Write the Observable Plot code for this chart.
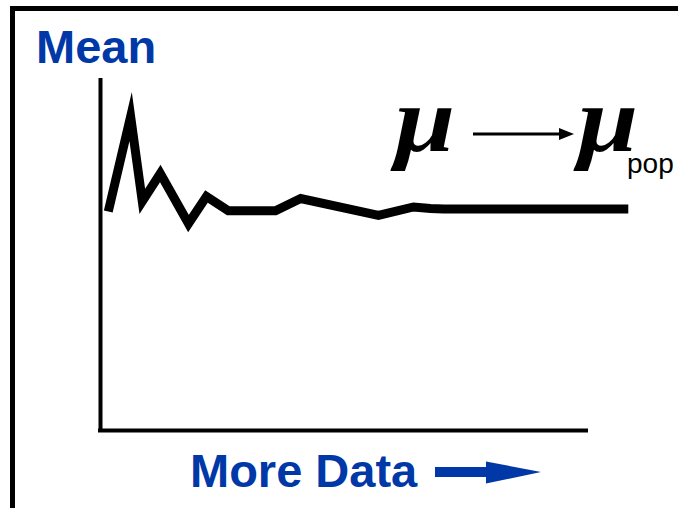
<!DOCTYPE html>
<html>
<head>
<meta charset="utf-8">
<script src="https://cdn.jsdelivr.net/npm/d3@7"></script>
<script src="https://cdn.jsdelivr.net/npm/@observablehq/plot@0.6"></script>
<style>
  html, body { margin: 0; padding: 0; background: #fff; overflow: hidden; }
  #wrap { position: relative; width: 678px; height: 508px; overflow: hidden; }
  #frame { position: absolute; left: 10px; top: 6px; width: 800px; height: 700px;
           border-top: 5px solid #000; border-left: 5px solid #000; }
  #chart { position: absolute; left: 0; top: 0; }
  #overlay { position: absolute; left: 0; top: 0; }
</style>
</head>
<body>
<div id="wrap">
  <div id="frame"></div>
  <div id="chart"></div>
  <svg id="overlay" width="678" height="508" xmlns="http://www.w3.org/2000/svg">
    <text x="36" y="63" font-family="Liberation Sans, Arial, sans-serif" font-weight="bold" font-size="47" fill="#0038a8">Mean</text>
    <text x="190" y="487" font-family="Liberation Sans, Arial, sans-serif" font-weight="bold" font-size="47" fill="#0038a8">More Data</text>
    <rect x="435" y="467" width="53" height="10" fill="#0038a8"/>
    <polygon points="486,461.5 541,472 486,483.5" fill="#0038a8"/>
    <text transform="translate(395,151) scale(1.15,1)" font-family="Liberation Serif, Times New Roman, serif" font-weight="bold" font-style="italic" font-size="94" fill="#000">μ</text>
    <line x1="473" y1="134" x2="561" y2="134" stroke="#000" stroke-width="3"/>
    <polygon points="559,128 574,134 559,140" fill="#000"/>
    <text transform="translate(578,151) scale(1.15,1)" font-family="Liberation Serif, Times New Roman, serif" font-weight="bold" font-style="italic" font-size="94" fill="#000">μ</text>
    <text x="627" y="173" font-family="Liberation Sans, Arial, sans-serif" font-size="28" fill="#000">pop</text>
  </svg>
</div>
<script>
// amount of data (arbitrary units) and running sample mean
const amountOfData = [1.6, 6.2, 8.6, 12.3, 18.1, 21.8, 26.3, 36.0, 41.2, 57.2, 64.4, 67.9, 70.6, 108.6];
const runningMean  = [62.2, 89.2, 65.1, 73.0, 58.8, 66.5, 62.4, 62.4, 65.9, 61.1, 63.5, 63.1, 62.9, 62.9];
const xAxisExtent = [0, 100];
const yAxisExtent = [0, 100];

const data = amountOfData.map((n, i) => ({n, mean: runningMean[i]}));

const chart = Plot.plot({
  width: 678,
  height: 508,
  margin: 0,
  style: {background: "transparent"},
  x: {domain: xAxisExtent, range: [100, 586], axis: null},
  y: {domain: yAxisExtent, range: [430, 78], axis: null},
  marks: [
    Plot.ruleY([yAxisExtent[0]], {x1: xAxisExtent[0], x2: xAxisExtent[1], stroke: "#000", strokeWidth: 4, strokeLinecap: "square"}),
    Plot.ruleX([xAxisExtent[0]], {y1: yAxisExtent[0], y2: yAxisExtent[1], stroke: "#000", strokeWidth: 4}),
    Plot.line(data, {x: "n", y: "mean", stroke: "#000", strokeWidth: 9,
      strokeLinejoin: "miter", strokeMiterlimit: 10, strokeLinecap: "butt"})
  ]
});
document.getElementById("chart").appendChild(chart);
</script>
</body>
</html>
